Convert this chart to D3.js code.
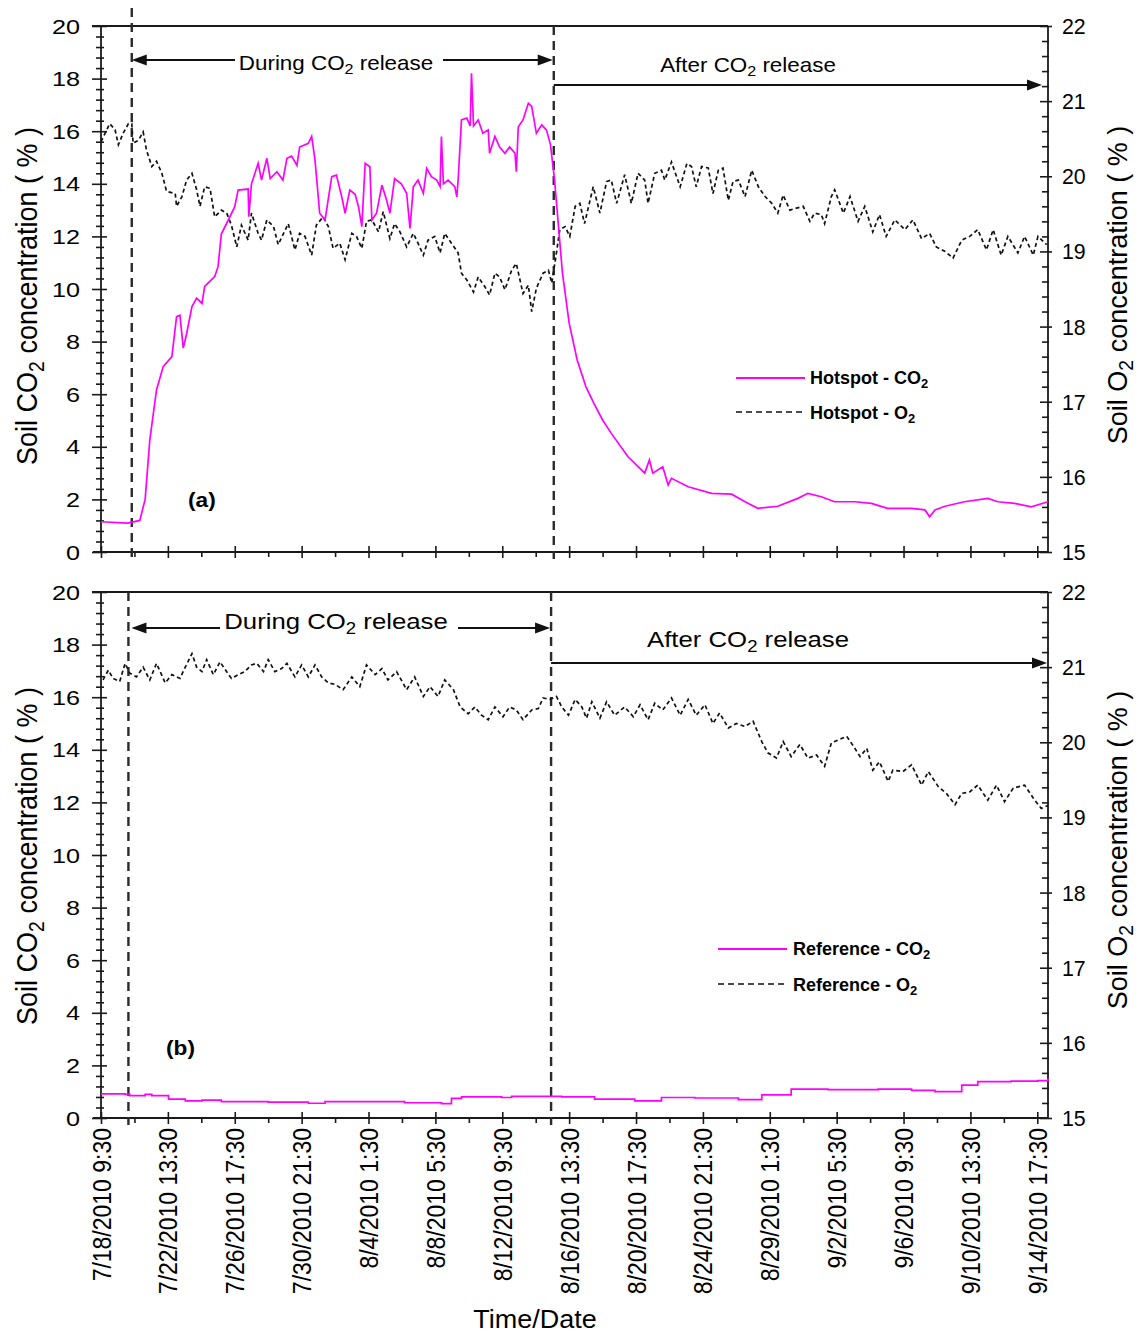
<!DOCTYPE html>
<html><head><meta charset="utf-8">
<script src="https://cdn.jsdelivr.net/npm/d3@7"></script>
<style>
body{margin:0;background:#fff}
svg{display:block}
text{font-family:"Liberation Sans",Arial,sans-serif;fill:#000}
</style></head>
<body><svg id="chart" width="1140" height="1335"></svg>
<script>
// ---------- DATA (time = hours since 7/18/2010 9:30) ----------
const tickHours = [0,100,200,300,400,500,600,700,800,900,1000,1100,1200,1300,1400];
const tickLabels = ["7/18/2010 9:30","7/22/2010 13:30","7/26/2010 17:30","7/30/2010 21:30","8/4/2010 1:30","8/8/2010 5:30","8/12/2010 9:30","8/16/2010 13:30","8/20/2010 17:30","8/24/2010 21:30","8/29/2010 1:30","9/2/2010 5:30","9/6/2010 9:30","9/10/2010 13:30","9/14/2010 17:30"];
const co2Ticks = [0,2,4,6,8,10,12,14,16,18,20];
const o2Ticks = [15,16,17,18,19,20,21,22];

const hotspotCO2Hours = [0,40,58,66,73,83,93,106,113,118,123,128,136,143,151,155,163,170,175,180,188,200,205,220,221,225,235,240,248,253,263,272,278,285,293,297,310,315,320,327,335,345,352,360,365,372,380,385,390,395,402,405,412,420,427,432,439,449,457,462,467,474,482,487,494,502,507,509,512,519,529,532,534,539,547,552,554,557,564,571,579,581,589,596,604,611,619,621,624,631,639,644,651,659,666,672,678,684,690,700,712,725,737,750,763,788,813,820,825,840,848,853,878,913,943,963,982,1012,1042,1057,1077,1097,1127,1152,1176,1212,1232,1239,1247,1262,1291,1326,1341,1366,1391,1416];
const hotspotCO2 = [1.15,1.1,1.2,2.0,4.26,6.16,7.05,7.43,8.95,9.0,7.75,8.3,9.33,9.65,9.45,10.1,10.3,10.47,10.85,12.1,12.5,13.13,13.76,13.8,12.75,14.0,14.78,14.14,14.97,14.2,14.46,14.14,14.97,15.05,14.7,15.4,15.54,15.8,14.9,12.88,12.62,14.27,14.33,13.5,12.88,13.76,13.6,13.13,12.37,14.78,14.65,12.62,12.88,13.95,13.38,12.88,14.2,14.0,13.64,12.3,13.89,14.14,13.64,14.59,14.27,14.14,13.9,15.8,14.0,14.14,13.89,13.5,14.14,16.43,16.5,16.2,18.2,16.2,16.43,15.92,16.05,15.16,15.8,15.4,15.16,15.4,15.16,14.46,16.17,16.43,17.06,16.94,15.92,16.24,16.05,15.5,14.2,12.4,10.6,8.7,7.3,6.29,5.65,5.02,4.51,3.62,3.0,3.5,3.0,3.24,2.55,2.8,2.48,2.23,2.2,1.91,1.66,1.74,2.04,2.23,2.1,1.91,1.91,1.85,1.66,1.66,1.6,1.34,1.6,1.74,1.91,2.04,1.91,1.85,1.72,1.91];

const hotspotO2Hours = [0,6,13,21,26,33,41,46,48,56,63,68,76,83,91,98,111,113,121,128,136,143,148,155,163,170,180,188,195,203,210,220,225,235,240,248,258,265,273,280,290,297,305,315,322,332,340,347,357,365,375,382,390,397,405,415,422,432,439,447,457,467,474,482,489,499,507,514,524,534,539,547,557,564,574,581,589,596,604,614,621,631,639,644,651,661,669,674,681,686,694,701,709,716,723,736,746,756,763,771,783,793,803,813,818,828,838,843,853,866,876,883,890,898,908,915,923,930,938,945,953,963,973,983,993,1003,1012,1020,1030,1037,1050,1060,1067,1077,1082,1092,1097,1110,1120,1132,1142,1154,1164,1174,1187,1202,1214,1227,1239,1249,1262,1274,1287,1299,1311,1324,1334,1346,1356,1371,1381,1394,1401,1414];
const hotspotO2 = [20.46,20.57,20.7,20.62,20.42,20.57,20.7,20.7,20.44,20.48,20.59,20.35,20.13,20.2,20.04,19.8,19.77,19.6,19.73,19.95,20.04,19.82,19.6,19.86,19.84,19.46,19.55,19.51,19.35,19.06,19.35,19.15,19.51,19.24,19.15,19.42,19.33,19.09,19.24,19.37,19.02,19.24,19.2,18.95,19.35,19.46,19.33,19.04,19.11,18.89,19.24,19.2,19.04,19.4,19.42,19.26,19.53,19.17,19.37,19.26,19.06,19.24,19.11,18.95,19.15,19.2,18.98,19.24,19.11,18.98,18.71,18.62,18.46,18.66,18.53,18.42,18.71,18.66,18.49,18.75,18.84,18.44,18.55,18.2,18.51,18.71,18.75,18.58,18.98,19.29,19.33,19.2,19.6,19.64,19.37,19.86,19.51,19.93,19.95,19.64,20.02,19.64,20.04,19.95,19.64,20.04,20.08,19.95,20.19,19.86,20.17,20.13,19.86,20.13,20.11,19.77,20.08,20.11,19.68,19.93,19.95,19.73,20.08,19.86,19.73,19.64,19.51,19.75,19.55,19.57,19.6,19.4,19.51,19.49,19.37,19.73,19.82,19.51,19.73,19.4,19.6,19.26,19.49,19.2,19.42,19.29,19.42,19.17,19.24,19.06,19.0,18.91,19.15,19.2,19.29,19.02,19.29,18.95,19.2,18.98,19.2,18.95,19.2,19.09];

const referenceO2Hours = [3,11,18,28,36,43,53,63,73,83,96,106,118,126,136,143,151,158,168,178,188,195,205,215,225,233,243,250,260,270,278,290,300,310,320,330,340,350,362,375,387,397,410,420,429,442,457,469,482,492,504,514,527,537,549,559,569,579,589,601,611,621,631,644,654,661,671,681,689,699,709,719,726,734,746,756,768,783,796,806,818,828,840,853,866,878,890,903,915,925,938,950,963,975,988,997,1010,1020,1032,1045,1057,1070,1082,1092,1102,1115,1125,1135,1145,1154,1164,1177,1184,1199,1212,1227,1237,1252,1264,1277,1287,1299,1311,1326,1339,1351,1364,1381,1396,1406,1416];
const referenceO2 = [20.83,20.96,20.85,20.81,21.05,20.92,20.87,21.0,20.83,21.05,20.79,20.9,20.85,21.0,21.18,21.0,20.94,21.1,20.9,21.07,20.94,20.85,20.9,20.94,21.03,21.05,20.94,21.1,20.94,20.98,21.05,20.87,21.03,20.87,21.03,20.87,20.79,20.77,20.7,20.87,20.74,21.03,20.9,20.98,20.83,20.94,20.7,20.87,20.61,20.74,20.61,20.83,20.7,20.47,20.38,20.47,20.36,20.3,20.47,20.34,20.47,20.43,20.3,20.43,20.45,20.59,20.57,20.61,20.47,20.36,20.57,20.47,20.32,20.54,20.32,20.54,20.36,20.47,20.34,20.5,20.3,20.52,20.43,20.59,20.36,20.57,20.36,20.5,20.25,20.39,20.19,20.25,20.21,20.28,20.01,19.86,19.79,20.01,19.81,19.97,19.79,19.83,19.68,19.99,20.03,20.08,19.95,19.81,19.92,19.63,19.74,19.48,19.63,19.61,19.7,19.43,19.61,19.41,19.32,19.17,19.32,19.34,19.43,19.23,19.43,19.21,19.39,19.43,19.23,19.12,19.16];

const referenceCO2Hours = [0,36,43,66,76,101,126,151,180,215,250,310,335,390,454,509,524,539,599,614,689,738,798,838,888,953,988,1032,1087,1162,1212,1247,1287,1311,1361,1401,1416];
const referenceCO2 = [0.92,0.9,0.85,0.9,0.85,0.72,0.65,0.68,0.62,0.62,0.6,0.56,0.62,0.62,0.58,0.55,0.75,0.8,0.78,0.82,0.8,0.72,0.65,0.78,0.76,0.7,0.88,1.1,1.08,1.1,1.05,1.0,1.25,1.38,1.4,1.42,1.5];

// release period markers (hours) per panel
const releaseHoursA = [46, 677];
const releaseHoursB = [41, 673];

// ---------- DRAWING ----------
const svg = d3.select("#chart");
const LEFT = 101, RIGHT = 1048;
const x = d3.scaleLinear().domain([0, 1416]).range([LEFT, RIGHT]);
const AX = "#1a1a1a";

function addText(px, py, parts, o) {
  const size = o.size, k = o.k == null ? 1.12 : o.k;
  const g = svg.append("g").attr("transform",
    `translate(${px},${py}) scale(${k},1)` + (o.rotate ? ` rotate(${o.rotate})` : ""));
  const t = g.append("text").attr("text-anchor", o.anchor || "start")
    .attr("font-size", size).attr("font-weight", o.weight || "normal");
  if (o.dy) t.attr("dy", o.dy);
  if (typeof parts === "string") parts = [[parts, false]];
  let prevSub = false;
  parts.forEach(([s, sub]) => {
    const ts = t.append("tspan").text(s);
    if (sub) ts.attr("font-size", size * 0.72).attr("dy", size * 0.22);
    else if (prevSub) ts.attr("dy", -size * 0.22);
    prevSub = sub;
  });
  return t;
}

function arrow(x1, x2, y) {
  const dir = x2 > x1 ? 1 : -1;
  svg.append("line").attr("x1", x1).attr("x2", x2 - dir * 8).attr("y1", y).attr("y2", y)
    .attr("stroke", "#111").attr("stroke-width", 2.2);
  svg.append("path").attr("d", `M${x2},${y} L${x2 - dir * 15},${y - 5.5} L${x2 - dir * 15},${y + 5.5} Z`)
    .attr("fill", "#111");
}

function panel(cfg) {
  const top = cfg.top, bottom = cfg.bottom;
  const yL = d3.scaleLinear().domain([0, 20]).range([bottom, top]);
  const yR = d3.scaleLinear().domain([15, 22]).range([bottom, top]);
  const g = svg.append("g");

  const minorL = d3.range(0, 20.001, 0.4).filter(v => Math.abs(v / 2 - Math.round(v / 2)) > 0.01);
  const minorR = d3.range(15, 22.001, 0.2).filter(v => Math.abs(v - Math.round(v)) > 0.01);
  const minorX = d3.range(50, 1400, 100);

  const la = g.append("g").attr("transform", `translate(${LEFT},0)`)
    .call(d3.axisLeft(yL).tickValues(minorL).tickSize(5).tickFormat(""));
  la.selectAll(".tick line").attr("x1", 3);
  const lM = g.append("g").attr("transform", `translate(${LEFT},0)`)
    .call(d3.axisLeft(yL).tickValues(co2Ticks).tickSize(9).tickFormat(""));
  lM.selectAll(".tick line").attr("x1", 6);

  const ra = g.append("g").attr("transform", `translate(${RIGHT},0)`)
    .call(d3.axisRight(yR).tickValues(minorR).tickSize(1).tickFormat(""));
  ra.selectAll(".tick line").attr("x1", -6);
  const rM = g.append("g").attr("transform", `translate(${RIGHT},0)`)
    .call(d3.axisRight(yR).tickValues(o2Ticks).tickSize(4).tickFormat(""));
  rM.selectAll(".tick line").attr("x1", -8);

  g.append("g").attr("transform", `translate(0,${bottom})`)
    .call(d3.axisBottom(x).tickValues(minorX).tickSize(5).tickFormat(""));
  const bM = g.append("g").attr("transform", `translate(0,${bottom})`)
    .call(d3.axisBottom(x).tickValues(tickHours).tickSize(6).tickFormat(""));
  bM.selectAll(".tick line").attr("y1", -6);

  g.selectAll(".domain").remove();
  g.selectAll(".tick line").attr("stroke", AX).attr("stroke-width", 1.6);

  const fr = [[92, top, RIGHT, top], [93, bottom, RIGHT, bottom], [LEFT, top, LEFT, bottom], [RIGHT, top, RIGHT, bottom]];
  fr.forEach(([a, b, c, d]) => g.append("line").attr("x1", a).attr("y1", b).attr("x2", c).attr("y2", d)
    .attr("stroke", AX).attr("stroke-width", 1.8));

  co2Ticks.forEach(v => addText(80, yL(v), String(v), {size: 21, anchor: "end", k: 1.2, dy: "0.36em"}));
  o2Ticks.forEach(v => addText(1062, yR(v), String(v), {size: 22, anchor: "start", k: 0.97, dy: "0.36em"}));
  if (cfg.xLabels) {
    tickHours.forEach((h, i) => addText(x(h), bottom + 10, tickLabels[i],
      {size: 23, anchor: "end", rotate: -90, k: 1.15, dy: "0.36em"}));
  }

  addText(37, cfg.titleL, [["Soil CO", false], ["2", true], [" concentration ( % )", false]],
    {size: 27, anchor: "middle", rotate: -90, k: 1.1});
  addText(1127, cfg.titleR, [["Soil O", false], ["2", true], [" concentration ( % )", false]],
    {size: 27, anchor: "middle", rotate: -90, k: 1.0});

  cfg.release.forEach((h, i) => {
    svg.append("line").attr("x1", x(h)).attr("x2", x(h))
      .attr("y1", cfg.dashTop[i]).attr("y2", bottom + 7)
      .attr("stroke", "#2a2a2a").attr("stroke-width", 2.4).attr("stroke-dasharray", "9,6");
  });

  const lineO2 = d3.line().x(d => x(d[0])).y(d => yR(d[1]));
  const lineCO2 = d3.line().x(d => x(d[0])).y(d => yL(d[1])).curve(cfg.co2Curve);
  svg.append("path").datum(d3.zip(cfg.o2Hours, cfg.o2))
    .attr("d", lineO2).attr("fill", "none").attr("stroke", "#111")
    .attr("stroke-width", 1.7).attr("stroke-dasharray", "4,3");
  svg.append("path").datum(d3.zip(cfg.co2Hours, cfg.co2))
    .attr("d", lineCO2).attr("fill", "none").attr("stroke", "#ff00ff").attr("stroke-width", 1.7);

  const L = cfg.legend;
  svg.append("line").attr("x1", L.x1).attr("x2", L.x2).attr("y1", L.y1).attr("y2", L.y1)
    .attr("stroke", "#ff00ff").attr("stroke-width", 1.8);
  svg.append("line").attr("x1", L.x1).attr("x2", L.x2).attr("y1", L.y2).attr("y2", L.y2)
    .attr("stroke", "#111").attr("stroke-width", 1.6).attr("stroke-dasharray", "6,4");
  addText(L.tx, L.y1 + 6, [[L.name + " - CO", false], ["2", true]], {size: 18, weight: "bold", k: 1});
  addText(L.tx, L.y2 + 7, [[L.name + " - O", false], ["2", true]], {size: 18, weight: "bold", k: 1});

  addText(cfg.tag.x, cfg.tag.y, cfg.tag.t, {size: 21, weight: "bold", k: 1.08});
}

panel({
  top: 26, bottom: 552, xLabels: false, titleL: 296, titleR: 285,
  release: releaseHoursA, dashTop: [8, 26],
  o2Hours: hotspotO2Hours, o2: hotspotO2, co2Hours: hotspotCO2Hours, co2: hotspotCO2,
  co2Curve: d3.curveLinear,
  legend: {x1: 736, x2: 805, y1: 378, y2: 412, tx: 810, name: "Hotspot"},
  tag: {x: 188, y: 507, t: "(a)"}
});
panel({
  top: 592, bottom: 1118, xLabels: true, titleL: 856, titleR: 850,
  release: releaseHoursB, dashTop: [592, 592],
  o2Hours: referenceO2Hours, o2: referenceO2, co2Hours: referenceCO2Hours, co2: referenceCO2,
  co2Curve: d3.curveStepAfter,
  legend: {x1: 718, x2: 787, y1: 949, y2: 984, tx: 793, name: "Reference"},
  tag: {x: 166, y: 1055, t: "(b)"}
});

const sub = [["During CO", false], ["2", true], [" release", false]];
addText(336, 70, sub, {size: 20, anchor: "middle", k: 1.12});
arrow(235, x(releaseHoursA[0]), 60);
arrow(443, x(releaseHoursA[1]) - 1, 60);
addText(748, 72, [["After CO", false], ["2", true], [" release", false]], {size: 20, anchor: "middle", k: 1.12});
arrow(x(releaseHoursA[1]), 1042, 85);

addText(336, 629, sub, {size: 23, anchor: "middle", k: 1.12});
arrow(220, x(releaseHoursB[0]) + 3, 628);
arrow(458, x(releaseHoursB[1]) - 1, 628);
addText(748, 647, [["After CO", false], ["2", true], [" release", false]], {size: 23, anchor: "middle", k: 1.12});
arrow(x(releaseHoursB[1]), 1047, 663);

addText(535, 1328, "Time/Date", {size: 25, anchor: "middle", k: 1.08});
</script>
</body></html>
